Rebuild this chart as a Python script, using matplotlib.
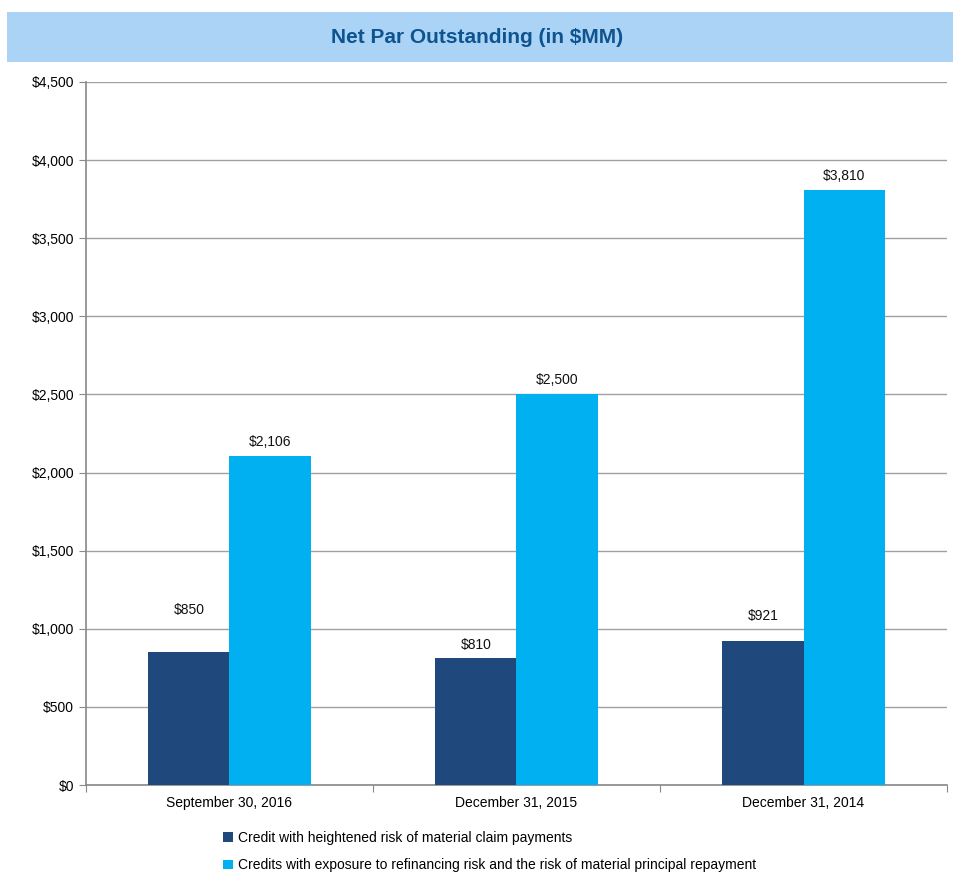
#Net par outstanding bar chart
import numpy as np
import matplotlib.pyplot as plt
from matplotlib.patches import Rectangle
from matplotlib.ticker import FuncFormatter

plt.rcParams['font.family'] = ['Liberation Sans', 'DejaVu Sans']

#Data
categories = ['September 30, 2016', 'December 31, 2015', 'December 31, 2014']
heightened = [850, 810, 921]
refinancing = [2106, 2500, 3810]
series_names = ['Credit with heightened risk of material claim payments',
                'Credits with exposure to refinancing risk and the risk of material principal repayment']

dark = '#1F497D'
light = '#00B0F0'
grid_col = '#A0A0A0'

fig = plt.figure(figsize=(9.54, 8.73), dpi=100)
ax = fig.add_axes([0.0901, 0.1008, 0.9026, 0.8053])

#Title band
fig.patches.append(Rectangle((0.0073, 0.929), 0.9927, 0.057, transform=fig.transFigure,
                             facecolor='#ABD3F5', edgecolor='none', zorder=0))
fig.text(0.5, 0.9575, 'Net Par Outstanding (in $MM)', ha='center', va='center',
         fontsize=15, fontweight='bold', color='#0E5490')

x = np.arange(len(categories))
w = 0.283
b1 = ax.bar(x - w / 2, heightened, w, color=dark, label=series_names[0], zorder=3)
b2 = ax.bar(x + w / 2, refinancing, w, color=light, label=series_names[1], zorder=3)

#Value labels (pixel offsets above each bar, as in the original)
off1 = [25, 5, 13]
off2 = [5, 5, 5]
for bars, vals, offs in [(b1, heightened, off1), (b2, refinancing, off2)]:
    for r, v, o in zip(bars, vals, offs):
        ax.annotate('${:,}'.format(v), (r.get_x() + r.get_width() / 2, v),
                    xytext=(0, o), textcoords='offset points', ha='center', va='bottom',
                    fontsize=10, color='#111111')

ax.set_xlim(-0.5, 2.5)
ax.set_ylim(0, 4500)
ax.set_yticks(np.arange(0, 4501, 500))
ax.yaxis.set_major_formatter(FuncFormatter(lambda v, p: '${:,.0f}'.format(v)))
ax.yaxis.grid(True, color=grid_col, linewidth=1, zorder=0)
ax.set_axisbelow(True)

#Category labels between boundary ticks
ax.set_xticks([-0.5, 0.5, 1.5, 2.5])
ax.set_xticklabels([])
ax.set_xticks(x, minor=True)
ax.set_xticklabels(categories, minor=True)
ax.tick_params(axis='x', which='minor', length=0, pad=8, labelsize=10)
ax.tick_params(axis='x', which='major', length=5, color='#888888')
ax.tick_params(axis='y', length=5, color='#888888', labelsize=10)

for s in ['top', 'right']:
    ax.spines[s].set_visible(False)
for s in ['left', 'bottom']:
    ax.spines[s].set_color('#888888')
    ax.spines[s].set_linewidth(1.2)

fig.legend(handles=[b1, b2], loc='upper left', bbox_to_anchor=(0.228, 0.055),
           frameon=False, fontsize=10, handlelength=0.7, handleheight=0.7,
           handletextpad=0.4, labelspacing=1.0, borderaxespad=0)

fig.savefig('out.png', dpi=100)
